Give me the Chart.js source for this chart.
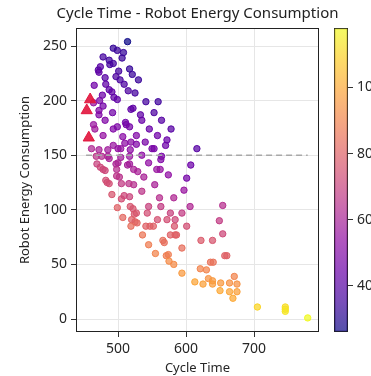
<!DOCTYPE html>
<html>
<head>
<meta charset="utf-8">
<script src="https://cdn.jsdelivr.net/npm/chart.js@4"></script>
<style>
  html, body { margin: 0; padding: 0; background: #fff; overflow: hidden; width: 371px; height: 376px; }
  #wrap { position: relative; width: 371px; height: 376px; }
  #main { position: absolute; left: 0; top: 0; }
  #bar { position: absolute; left: 334px; top: 0; }
</style>
</head>
<body>
<div id="wrap">
  <canvas id="main" width="371" height="376"></canvas>
  <canvas id="bar" width="70" height="376"></canvas>
</div>
<script>
// scatter points: cycle time, energy, colour value
const cycleTime = [
  514,493,499,508,478,506,487,493,488,474,471,472,501,517,521,481,497,503,530,465,482,509,487,491,515,525,477,494,499,
  473,464,541,559,478,519,522,472,492,553,472,533,
  481,511,535,564,512,493,499,517,464,466,546,578,
  478,507,527,558,572,540,510,519,493,570,527,485,500,550,553,518,616,461,472,504,
  468,485,504,517,535,564,563,476,487,545,517,500,469,607,497,514,
  474,478,481,498,523,529,562,557,502,538,574,601,498,482,484,487,
  505,523,554,516,535,597,491,505,509,517,561,582,545,499,518,522,563,606,654,527,543,577,594,524,
  507,520,525,558,572,584,649,519,528,541,547,552,583,601,
  536,577,584,586,654,566,568,545,622,639,594,555,571,574,657,660,
  575,582,636,640,621,630,594,671,633,613,625,639,639,651,664,675,650,664,675,669,705,746,746,746,779
];
const energy = [
  254,248,246,244,240,239,237,234,233,231,228,226,227,229,224,221,222,219,219,214,215,215,210,208,209,207,205,203,201,
  200,198,199,199,195,192,193,191,189,189,187,187,
  182,180,182,182,178,174,176,176,178,174,174,174,
  168,167,168,168,164,162,161,162,159,159,160,155,156,156,156,155,156,156,155,156,
  149,149,148,149,150,149,146,149,147,143,142,143,142,141,142,141,
  139,137,136,137,137,135,137,137,130,130,132,129,131,127,125,124,
  124,123,123,124,117,118,114,110,113,112,111,111,103,102,103,101,103,103,104,97,97,97,97,96,
  93,91,89,91,91,91,90,85,88,85,85,85,85,85,
  77,77,77,77,78,72,70,68,72,72,65,60,58,59,58,58,
  53,50,52,52,46,45,42,39,37,34,32,35,32,33,33,32,26,25,25,19,11,11,9,7,1
];
const colorValue = [
  26,33,34,33,36,34,35,36,36,40,40,42,36,33,34,40,38,37,34,46,42,38,42,42,38,36,45,42,42,
  48,55,36,35,47,42,42,50,46,38,50,42,
  50,46,44,40,47,50,49,47,56,58,44,40,
  55,52,50,46,44,48,53,52,56,45,50,58,55,48,48,53,40,62,60,55,
  66,60,58,56,53,48,50,63,60,54,58,60,70,45,61,59,
  72,72,72,64,60,60,55,56,65,60,54,47,66,74,74,74,
  68,64,60,66,66,56,76,74,72,71,64,62,70,80,76,76,68,62,64,76,74,70,68,77,
  82,80,80,75,74,72,68,84,82,80,80,80,76,74,
  86,80,80,80,72,84,84,88,78,76,84,90,88,88,80,80,
  92,92,85,85,90,90,96,90,94,99,98,96,97,96,94,94,100,99,98,100,110,112,113,114,118
];

// highlighted points (red triangles)
const bestCycle = [454, 459, 457];
const bestEnergy = [191, 201, 166];

// dashed reference line
const refEnergy = 150;
const refCycle = [453, 779];

const xTicks = [500, 600, 700];
const yTicks = [0, 50, 100, 150, 200, 250];
const cbTicks = [40, 60, 80, 100];

const chartTitle = 'Cycle Time - Robot Energy Consumption';

const cMin = Math.min(...colorValue);
const cMax = Math.max(...colorValue);

const plasma = [[13,8,135],[65,4,157],[106,0,168],[143,13,164],[177,42,144],[204,71,120],
                [225,100,98],[242,132,75],[252,166,54],[252,206,37],[240,249,33]];
function plasmaColor(t, a) {
  t = Math.min(1, Math.max(0, t));
  const p = t * 10;
  const i = Math.min(9, Math.floor(p));
  const f = p - i;
  const c0 = plasma[i], c1 = plasma[i + 1];
  const r = c0.map((v, k) => Math.round(v + (c1[k] - v) * f));
  return `rgba(${r[0]},${r[1]},${r[2]},${a})`;
}
const norm = c => (c - cMin) / (cMax - cMin);

Chart.defaults.font.family = 'Noto Sans';
Chart.defaults.color = '#262626';

// axes box + title centred over the plot area (matplotlib style)
const frame = {
  id: 'frame',
  afterDraw(chart) {
    const { ctx, chartArea: a } = chart;
    ctx.save();
    ctx.strokeStyle = '#222';
    ctx.lineWidth = 1;
    ctx.strokeRect(a.left + 0.5, a.top + 0.5, a.right - a.left - 1, a.bottom - a.top - 1);
    ctx.fillStyle = '#222';
    ctx.font = '15px "Noto Sans"';
    ctx.textAlign = 'center';
    ctx.textBaseline = 'middle';
    ctx.fillText(chartTitle, (a.left + a.right) / 2, 14);
    ctx.restore();
  }
};

new Chart(document.getElementById('main'), {
  type: 'scatter',
  data: {
    datasets: [
      {
        data: bestCycle.map((x, i) => ({ x, y: bestEnergy[i] })),
        pointStyle: 'triangle',
        pointRadius: 6.5,
        backgroundColor: 'rgba(225,20,60,0.9)',
        borderColor: 'rgba(225,20,60,0.95)',
        borderWidth: 1,
        order: 0
      },
      {
        type: 'line',
        data: refCycle.map(x => ({ x, y: refEnergy })),
        borderColor: '#a8a8a8',
        borderWidth: 1.5,
        borderDash: [6, 4],
        pointRadius: 0,
        fill: false,
        order: 1
      },
      {
        data: cycleTime.map((x, i) => ({ x, y: energy[i] })),
        pointRadius: 3.2,
        borderWidth: 1,
        backgroundColor: colorValue.map(c => plasmaColor(norm(c), 0.72)),
        borderColor: colorValue.map(c => plasmaColor(norm(c), 0.95)),
        order: 2
      }
    ]
  },
  options: {
    responsive: false,
    animation: false,
    layout: { padding: { left: 0, right: 52, top: 28, bottom: 0 } },
    plugins: {
      legend: { display: false },
      tooltip: { enabled: false },
      title: { display: false }
    },
    scales: {
      x: {
        type: 'linear',
        min: 438.2,
        max: 795.6,
        afterBuildTicks: s => { s.ticks = xTicks.map(v => ({ value: v })); },
        afterFit: s => { s.height = 44; },
        grid: { color: '#e6e6e6', tickColor: '#333', tickLength: 5 },
        border: { display: false },
        ticks: { font: { size: 14 }, padding: 4, maxRotation: 0 },
        title: { display: true, text: 'Cycle Time', font: { size: 13 }, padding: { top: 0, bottom: 0 } }
      },
      y: {
        type: 'linear',
        min: -11.9,
        max: 266.5,
        afterBuildTicks: s => { s.ticks = yTicks.map(v => ({ value: v })); },
        afterFit: s => { s.width = 76; },
        grid: { color: '#e6e6e6', tickColor: '#333', tickLength: 5 },
        border: { display: false },
        ticks: { font: { size: 14 }, padding: 4 },
        title: { display: true, text: 'Robot Energy Consumption', font: { size: 13 }, padding: { top: 17, bottom: 0 } }
      }
    }
  },
  plugins: [frame]
});

new Chart(document.getElementById('bar'), {
  type: 'bar',
  data: {
    labels: [''],
    datasets: [{
      data: [[cMin, cMax]],
      backgroundColor: ctx => {
        const a = ctx.chart.chartArea;
        if (!a) return 'rgba(0,0,0,0)';
        const g = ctx.chart.ctx.createLinearGradient(0, a.bottom, 0, a.top);
        for (let i = 0; i <= 20; i++) g.addColorStop(i / 20, plasmaColor(i / 20, 0.7));
        return g;
      },
      borderColor: '#222',
      borderWidth: 1,
      borderSkipped: false,
      barPercentage: 1,
      categoryPercentage: 1
    }]
  },
  options: {
    responsive: false,
    animation: false,
    layout: { padding: { left: 0, right: 0, top: 28, bottom: 44 } },
    plugins: { legend: { display: false }, tooltip: { enabled: false }, title: { display: false } },
    scales: {
      x: { display: false },
      y: {
        position: 'right',
        min: cMin,
        max: cMax,
        afterBuildTicks: s => { s.ticks = cbTicks.map(v => ({ value: v })); },
        afterFit: s => { s.width = 56; },
        grid: { drawOnChartArea: false, tickColor: '#333', tickLength: 5 },
        border: { display: false },
        ticks: { font: { size: 14 }, padding: 4 }
      }
    }
  }
});
</script>
</body>
</html>
